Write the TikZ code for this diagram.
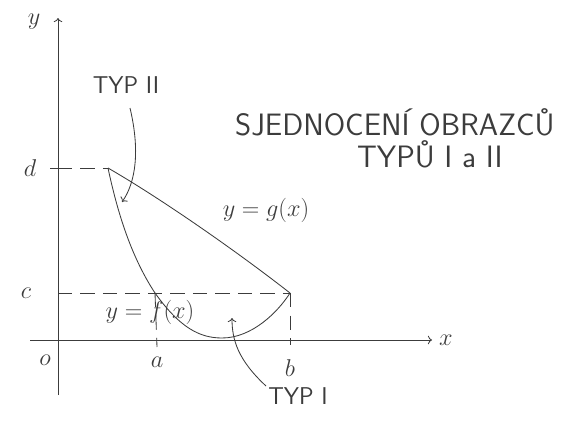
\documentclass[tikz,border=0pt]{standalone}
\usepackage{tikz}
\usetikzlibrary{arrows.meta}
\usepackage{amsmath}
\definecolor{pencil}{RGB}{60,60,60}

\begin{document}
\begin{tikzpicture}[x=0.025cm,y=-0.025cm,
    line width=0.6pt, draw=pencil, text=pencil,
    lbl/.style={font=\LARGE},
    note/.style={font=\sffamily\LARGE},
    bignote/.style={font=\sffamily\fontsize{22}{26}\selectfont, anchor=west},
    dashline/.style={dashed, dash pattern=on 10pt off 6pt}]
    \useasboundingbox (0,0) rectangle (574,421);
    % axes
    \coordinate (ybot) at (58,395);
    \coordinate (ytop) at (58,18);
    \coordinate (xleft) at (30,340);
    \coordinate (xright) at (432,340);
    \draw[->] (ybot) -- (ytop);
    \draw[->] (xleft) -- (xright);
    \node[lbl] (ylab) at (34,22) {$y$};
    \node[lbl] (xlab) at (446,340) {$x$};
    \node[lbl] (olab) at (45,360) {$o$};
    % corner points of the region
    \coordinate (D) at (108,168);
    \coordinate (A) at (155,293);
    \coordinate (M) at (222,338);
    \coordinate (R) at (290,293);
    \coordinate (dtick) at (58,168);
    \coordinate (ctick) at (58,293);
    \coordinate (abot) at (157,347);
    \coordinate (bbot) at (290,345);
    \node[lbl] (dlab) at (30,168) {$d$};
    \node[lbl] (clab) at (26,293) {$c$};
    \node[lbl] (alab) at (157,362) {$a$};
    \node[lbl] (blab) at (290,368) {$b$};
    \draw (50,168) -- (66,168);
    \draw[dashline] (dtick) -- (D);
    \draw[dashline] (ctick) -- (R);
    \draw[dashline] (A) -- (abot);
    \draw[dashline] (R) -- (bbot);
    % boundary curves
    \draw (D) .. controls (118,215) and (132,258) .. (A);
    \draw (A) .. controls (180,328) and (200,338) .. (M)
              .. controls (252,338) and (278,312) .. (R);
    \draw (D) .. controls (160,198) and (235,250) .. (R);
    \node[lbl] (glab) at (266,210) {$y=g(x)$};
    \node[lbl] (flab) at (150,312) {$y=f(x)$};
    % notes
    \node[note] (typ2) at (126,85) {TYP II};
    \node[bignote] (union1) at (230,122) {SJEDNOCENÍ OBRAZCŮ};
    \node[bignote] (union2) at (352,154) {TYPŮ I a II};
    \node[note] (typ1) at (298,396) {TYP I};
    \coordinate (t2start) at (130,108);
    \coordinate (t2end) at (122,202);
    \coordinate (t1start) at (266,386);
    \coordinate (t1end) at (232,318);
    \draw[->] (t2start) .. controls (140,150) and (136,182) .. (t2end);
    \draw[->] (t1start) .. controls (238,360) and (232,340) .. (t1end);
\end{tikzpicture}
\end{document}
